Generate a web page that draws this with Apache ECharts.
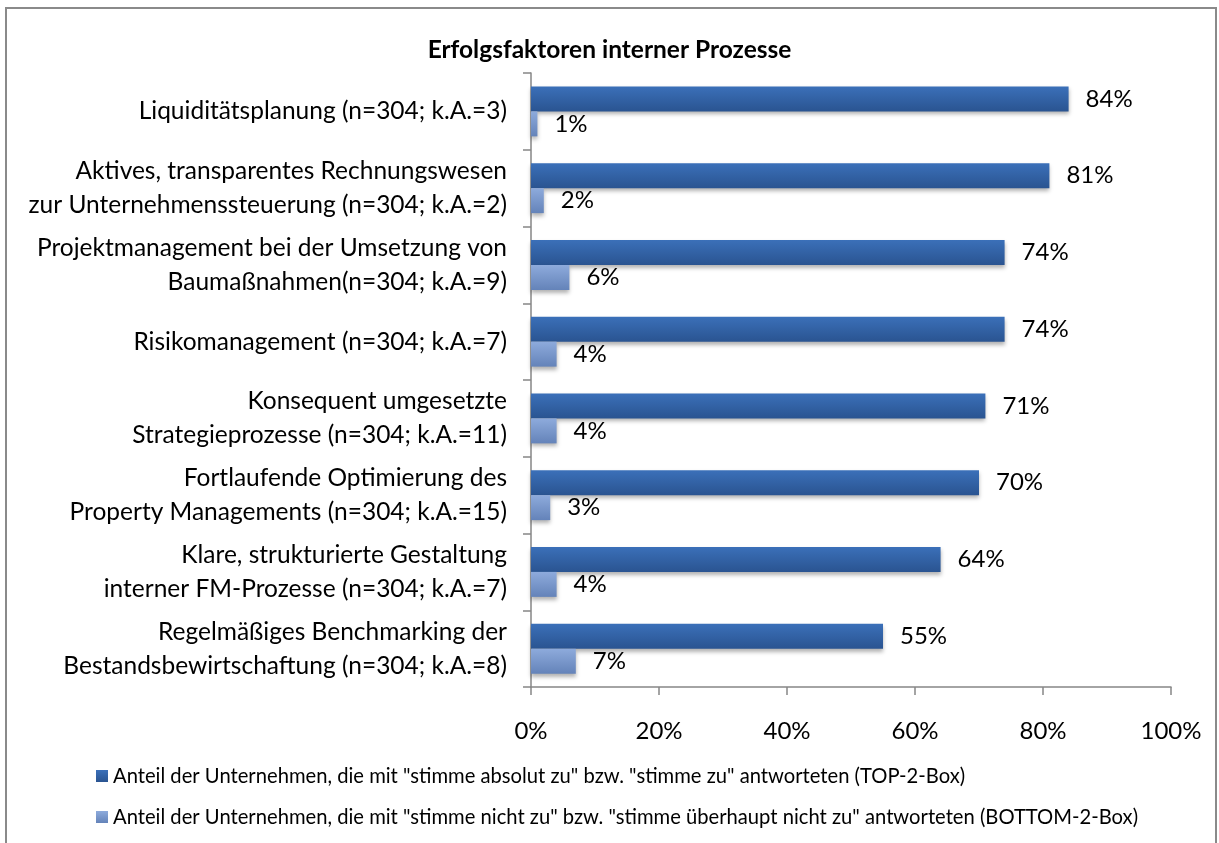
<!DOCTYPE html>
<html>
<head>
<meta charset="utf-8">
<script src="https://cdn.jsdelivr.net/npm/echarts@6/dist/echarts.min.js"></script>
<style>
  html, body { margin: 0; padding: 0; background: #fff; }
  #chart { width: 1219px; height: 843px; }
</style>
</head>
<body>
<div id="chart"></div>
<script>
// Survey items (top to bottom)
const categories = [
  'Liquiditätsplanung (n=304; k.A.=3)',
  'Aktives, transparentes Rechnungswesen\nzur Unternehmenssteuerung (n=304; k.A.=2)',
  'Projektmanagement bei der Umsetzung von\nBaumaßnahmen(n=304; k.A.=9)',
  'Risikomanagement (n=304; k.A.=7)',
  'Konsequent umgesetzte\nStrategieprozesse (n=304; k.A.=11)',
  'Fortlaufende Optimierung des\nProperty Managements (n=304; k.A.=15)',
  'Klare, strukturierte Gestaltung\ninterner FM-Prozesse (n=304; k.A.=7)',
  'Regelmäßiges Benchmarking der\nBestandsbewirtschaftung (n=304; k.A.=8)'
];

// Share of agreement (percent)
const topTwoBox = [84, 81, 74, 74, 71, 70, 64, 55];
const bottomTwoBox = [1, 2, 6, 4, 4, 3, 4, 7];

const seriesNames = [
  'Anteil der Unternehmen, die mit "stimme absolut zu" bzw. "stimme zu" antworteten (TOP-2-Box)',
  'Anteil der Unternehmen, die mit "stimme nicht zu" bzw. "stimme überhaupt nicht zu" antworteten (BOTTOM-2-Box)'
];

const xTicks = { min: 0, max: 100, step: 20 };

const FONT = 'Lato, "Open Sans", sans-serif';

function grad(top, bottom) {
  return new echarts.graphic.LinearGradient(0, 0, 0, 1, [
    { offset: 0, color: top },
    { offset: 1, color: bottom }
  ]);
}

const chart = echarts.init(document.getElementById('chart'), null, { renderer: 'canvas' });

const barLabel = {
  show: true,
  position: 'right',
  distance: 17,
  fontFamily: FONT,
  fontSize: 24,
  color: '#000',
  formatter: p => p.value + '%'
};

chart.setOption({
  animation: false,
  backgroundColor: '#fff',
  graphic: [{
    type: 'rect',
    shape: { x: 6, y: 8, width: 1210, height: 842 },
    style: { fill: 'none', stroke: '#8a8a8a', lineWidth: 2 },
    silent: true
  }],
  title: {
    text: 'Erfolgsfaktoren interner Prozesse',
    left: 'center',
    top: 33,
    textStyle: { fontFamily: FONT, fontSize: 24.5, fontWeight: 'bold', color: '#000' }
  },
  legend: {
    orient: 'vertical',
    left: 91,
    top: 761,
    itemWidth: 12,
    itemHeight: 12,
    itemGap: 21,
    icon: 'rect',
    textStyle: { fontFamily: FONT, fontSize: 20.2, color: '#000', lineHeight: 20 },
    data: seriesNames
  },
  grid: { left: 531, right: 48, top: 73, bottom: 156, containLabel: false },
  xAxis: {
    type: 'value',
    min: xTicks.min,
    max: xTicks.max,
    interval: xTicks.step,
    axisLine: { show: true, lineStyle: { color: '#868686', width: 1.5 } },
    axisTick: { show: true, length: 8, lineStyle: { color: '#868686', width: 1.5 } },
    splitLine: { show: false },
    axisLabel: {
      margin: 32,
      fontFamily: FONT,
      fontSize: 24,
      color: '#000',
      formatter: v => v + '%'
    }
  },
  yAxis: {
    type: 'category',
    inverse: true,
    data: categories,
    axisLine: { show: true, lineStyle: { color: '#868686', width: 1.5 } },
    axisTick: { show: true, length: 8, alignWithLabel: false, lineStyle: { color: '#868686', width: 1.5 } },
    axisLabel: {
      margin: 24,
      fontFamily: FONT,
      fontSize: 24.5,
      lineHeight: 34,
      color: '#000',
      align: 'right'
    }
  },
  series: [
    {
      name: seriesNames[0],
      type: 'bar',
      data: topTwoBox,
      barWidth: 25,
      barGap: '0%',
      itemStyle: {
        color: grad('#3b70b9', '#2a5491'),
        shadowColor: 'rgba(0,0,0,0.3)',
        shadowBlur: 4,
        shadowOffsetY: 3
      },
      label: barLabel
    },
    {
      name: seriesNames[1],
      type: 'bar',
      data: bottomTwoBox,
      barWidth: 25,
      barGap: '0%',
      itemStyle: {
        color: grad('#8eabdc', '#6483b9'),
        shadowColor: 'rgba(0,0,0,0.3)',
        shadowBlur: 4,
        shadowOffsetY: 3
      },
      label: barLabel
    }
  ]
});
</script>
</body>
</html>
